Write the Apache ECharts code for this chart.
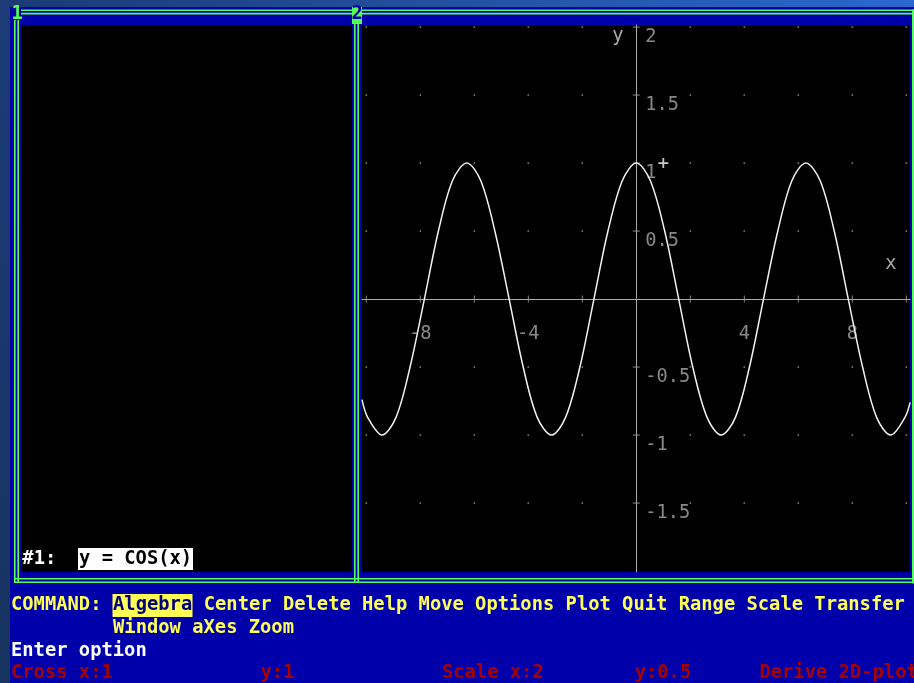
<!DOCTYPE html>
<html lang="en">
<head>
<meta charset="UTF-8">
<title>Derive 2D-plot</title>
<script src="https://cdn.jsdelivr.net/npm/echarts@6.0.0/dist/echarts.min.js"></script>
<style>
  html, body { margin: 0; padding: 0; background: #0000aa; }
  #chart { width: 914px; height: 683px; }
</style>
</head>
<body>
<div id="chart"></div>
<script>
// y = COS(x)
const curveX = [-10.16, -9.95, -9.42, -8.90, -8.38, -7.85, -7.33, -6.81, -6.28, -5.76, -5.24, -4.71, -4.19, -3.67, -3.14,
  -2.62, -2.09, -1.57, -1.05, -0.52, 0, 0.52, 1.05, 1.57, 2.09, 2.62, 3.14, 3.67, 4.19, 4.71, 5.24, 5.76,
  6.28, 6.81, 7.33, 7.85, 8.38, 8.90, 9.42, 9.95, 10.14];
const curveY = [-0.74, -0.87, -1, -0.87, -0.5, 0, 0.5, 0.87, 1, 0.87, 0.5, 0, -0.5, -0.87, -1,
  -0.87, -0.5, 0, 0.5, 0.87, 1, 0.87, 0.5, 0, -0.5, -0.87, -1, -0.87, -0.5, 0, 0.5, 0.87,
  1, 0.87, 0.5, 0, -0.5, -0.87, -1, -0.87, -0.76];

// axis ticks (scale x:2, y:0.5) and the labels Derive prints
const xTicks = [-10, -8, -6, -4, -2, 2, 4, 6, 8, 10];
const xLabels = [-8, -4, 4, 8];
const yTicks = [-1.5, -1, -0.5, 0.5, 1, 1.5, 2];
const yLabels = [-1.5, -1, -0.5, 0.5, 1, 1.5, 2];
const cross = [1, 1];

// text screen
const menuRest = ' Center Delete Help Move Options Plot Quit Range Scale Transfer';
const menuLine2 = 'Window aXes Zoom';
const statusItems = [['Cross x:1', 0], ['y:1', 22], ['Scale x:2', 38], ['y:0.5', 55], ['Derive 2D-plot', 66]];

const COL = 11.34;
const colX = c => 11 + c * COL;
const MONO = '"DejaVu Sans Mono", "Liberation Mono", monospace';
const GREEN = '#55ff55', YELLOW = '#ffff55', RED = '#aa0000', GRAY = '#aaaaaa';

function txt(str, x, y, color, extra) {
  return {
    type: 'text', x: x, y: y, z: 100,
    style: Object.assign({
      text: str, fill: color, fontFamily: MONO, fontSize: 18.8, fontWeight: 'bold',
      align: 'left', verticalAlign: 'middle'
    }, extra || {})
  };
}
function box(x, y, w, h, color, z) {
  return { type: 'rect', shape: { x: x, y: y, width: w, height: h }, style: { fill: color }, z: z || 1, silent: true };
}
// invisible points that only carry a text label
function labelSeries(points, offset, align) {
  return {
    type: 'scatter', data: points, symbolSize: 0.1, itemStyle: { color: 'rgba(0,0,0,0)' }, silent: true,
    label: {
      show: true, position: 'inside', offset: offset, align: align, verticalAlign: 'middle',
      color: GRAY, fontFamily: MONO, fontSize: 18.7,
      formatter: p => String(p.value[0] === 0 ? p.value[1] : p.value[0])
    }
  };
}

const dots = [];
xTicks.forEach(x => yTicks.forEach(y => dots.push([x, y])));

const chart = echarts.init(document.getElementById('chart'));
chart.setOption({
  backgroundColor: '#0000aa',
  animation: false,
  grid: { left: 362, top: 25, width: 548, height: 547, show: true, backgroundColor: '#000', borderWidth: 0 },
  xAxis: {
    type: 'value', min: -10.16, max: 10.136,
    axisLine: { onZero: true, lineStyle: { color: GRAY, width: 1 } },
    axisTick: { show: false }, splitLine: { show: false }, axisLabel: { show: false }
  },
  yAxis: {
    type: 'value', min: -2.007, max: 2.015,
    axisLine: { onZero: true, lineStyle: { color: GRAY, width: 1 } },
    axisTick: { show: false }, splitLine: { show: false }, axisLabel: { show: false }
  },
  series: [
    { type: 'scatter', data: dots, symbol: 'rect', symbolSize: 1.6, itemStyle: { color: '#9a9a9a' }, silent: true },
    { type: 'scatter', data: xTicks.map(x => [x, 0]), symbol: 'rect', symbolSize: [1, 7], itemStyle: { color: GRAY }, silent: true },
    { type: 'scatter', data: yTicks.map(y => [0, y]), symbol: 'rect', symbolSize: [7, 1], itemStyle: { color: GRAY }, silent: true },
    labelSeries(xLabels.map(x => [x, 0]), [0, 35], 'center'),
    labelSeries(yLabels.map(y => [0, y]), [9, 10], 'left'),
    {
      type: 'line', data: curveX.map((x, i) => [x, curveY[i]]), smooth: 0.33, showSymbol: false,
      lineStyle: { color: '#f2f2f2', width: 1.5 }, silent: true
    },
    {
      type: 'scatter', data: [cross], symbol: 'path://M3.5,0h1.5v8.5h-1.5zM0,3.5h8.5v1.5h-8.5z', symbolSize: 10,
      itemStyle: { color: '#ffffff' }, silent: true, z: 5
    }
  ],
  graphic: { elements: [
    // desktop behind the DOS window
    { type: 'rect', shape: { x: 0, y: 0, width: 914, height: 7 }, z: 1, silent: true,
      style: { fill: new echarts.graphic.LinearGradient(0, 0, 1, 0, [{ offset: 0, color: '#1b3a74' }, { offset: 1, color: '#2a68cf' }]) } },
    { type: 'rect', shape: { x: 0, y: 0, width: 10, height: 683 }, z: 1, silent: true,
      style: { fill: new echarts.graphic.LinearGradient(0, 0, 0, 1, [{ offset: 0, color: '#1c3c78' }, { offset: 1, color: '#17335f' }]) } },
    // window 1 interior
    box(21, 25, 331, 547, '#000', 1),
    // frame lines
    box(21, 9.5, 331, 1.6, GREEN), box(21, 12.8, 331, 1.6, GREEN),
    box(362, 9.5, 552, 1.6, GREEN), box(362, 12.8, 552, 1.6, GREEN),
    box(14, 20, 1.6, 563, GREEN), box(17.4, 20, 1.6, 563, GREEN),
    box(354, 20, 1.6, 563, GREEN), box(357.4, 20, 1.6, 563, GREEN),
    box(912, 9.5, 2, 574, GREEN),
    box(14, 578, 900, 1.6, GREEN), box(14, 581.4, 900, 1.6, GREEN),
    box(352, 7, 10, 17, GREEN, 2),
    txt('1', 11.5, 14, GREEN),
    txt('2', 351.5, 14, '#0000aa'),
    // algebra window line
    txt('#1:', colX(1), 559, '#ffffff'),
    box(78, 548, 115, 22, '#ffffff', 2),
    txt('y = COS(x)', colX(6), 559, '#000000'),
    // plot axis names
    txt('y', 618, 36, GRAY, { align: 'center', fontWeight: 'normal', fontSize: 18.7 }),
    txt('x', 891, 264, GRAY, { align: 'center', fontWeight: 'normal', fontSize: 18.7 }),
    // command menu
    txt('COMMAND:', colX(0), 605, YELLOW),
    box(112.5, 594, 80, 23, YELLOW, 2),
    txt('Algebra', colX(9), 605, '#00007a'),
    txt(menuRest, colX(16), 605, YELLOW),
    txt(menuLine2, colX(9), 628, YELLOW),
    txt('Enter option', colX(0), 651, '#ffffff')
  ].concat(statusItems.map(s => txt(s[0], colX(s[1]), 673, RED))) }
});
</script>
</body>
</html>
